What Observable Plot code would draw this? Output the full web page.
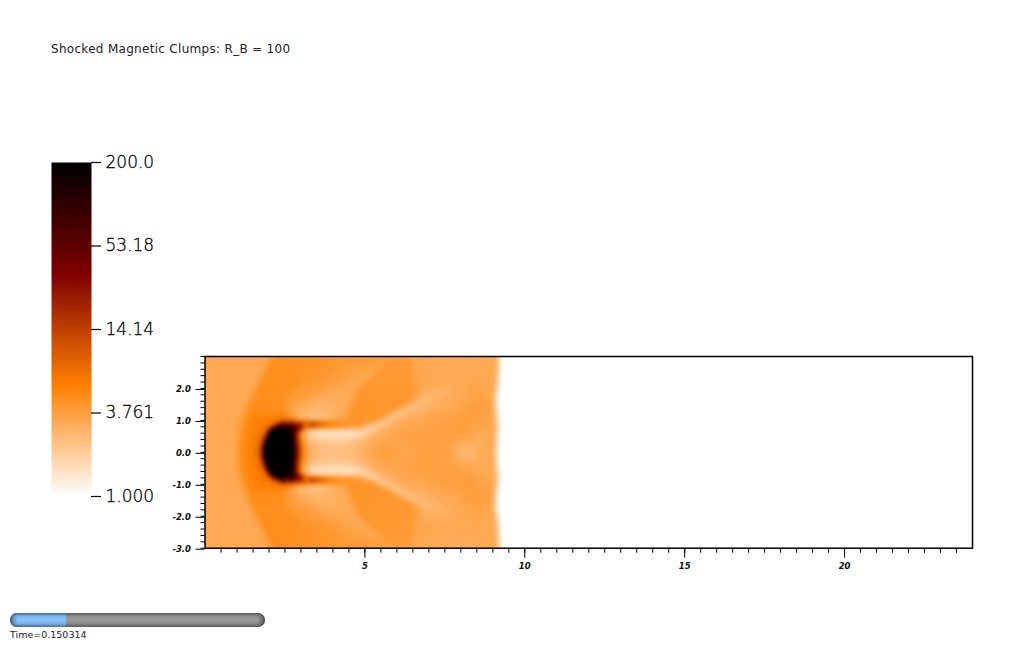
<!DOCTYPE html>
<html><head><meta charset="utf-8">
<script src="https://cdn.jsdelivr.net/npm/d3@7"></script>
<script src="https://cdn.jsdelivr.net/npm/@observablehq/plot@0.6"></script>
<style>
html,body{margin:0;padding:0;background:#fff;overflow:hidden}
#page{position:relative;width:1024px;height:645px}
#page svg{position:absolute;left:0;top:0;background:transparent;overflow:visible}
.lbl{position:absolute;font-family:"DejaVu Sans";color:#222;white-space:pre}
</style></head><body><div id="page"></div>
<script>
const titleText = "Shocked Magnetic Clumps: R_B = 100";
const timeText = "Time=0.150314";
const timeFraction = 0.22;
const legendTicks = [200.0, 53.18, 14.14, 3.761, 1.0];
const legendLabels = ["200.0", "53.18", "14.14", "3.761", "1.000"];
const colorStops = ["#ffffff", "#ff8000", "#800000", "#000000"];
const xMajor = [5, 10, 15, 20];
const xMinor = d3.range(0.5, 24, 0.5);
const yMajor = [-3, -2, -1, 0, 1, 2];
const yMinor = d3.range(-30, 31, 2).map(d => d / 10);

// density: [x, density] knots along lines of constant |y|
const rowA00 = [[0,3.3],[0.9,3.3],[1.18,5],[1.5,6.3],[1.7,8],[1.78,30],[1.86,210],[2.72,230],[2.84,60],[2.95,13],[3.08,5],[3.3,2.9],[3.6,2.5],[3.9,2.4],[4.2,2.4],[4.5,2.5],[4.8,2.8],[5.2,3.4],[5.6,3.8],[6.2,3.4],[7,3.8],[7.7,3.7],[8.0,2.5],[8.3,2.7],[8.6,3.2],[9.0,3.3],[9.1,1.9],[9.2,1],[24,1]];
const rowA15 = [[0,3.3],[0.9,3.3],[1.18,5],[1.5,6.2],[1.71,8],[1.79,30],[1.87,210],[2.73,230],[2.85,60],[2.96,13],[3.08,5],[3.3,2.8],[3.6,2.45],[3.9,2.35],[4.2,2.35],[4.5,2.45],[4.8,2.7],[5.2,3.3],[5.6,3.7],[6.2,3.5],[7,3.7],[7.7,3.6],[8.05,2.9],[8.35,2.8],[8.6,3.2],[9.0,3.3],[9.1,1.9],[9.2,1],[24,1]];
const rowA30 = [[0,3.3],[0.91,3.3],[1.19,5],[1.52,6.1],[1.74,8],[1.82,30],[1.9,210],[2.7,230],[2.83,60],[2.93,13],[3.06,4.6],[3.3,2.6],[3.6,2.3],[3.9,2.2],[4.2,2.2],[4.5,2.3],[4.8,2.6],[5.2,3.2],[5.6,3.5],[6.2,3.6],[7,3.7],[7.7,3.6],[8.2,3.2],[8.5,3],[8.8,3.2],[9.01,3.3],[9.11,1.9],[9.21,1],[24,1]];
const rowA45 = [[0,3.3],[0.93,3.3],[1.21,5],[1.56,6],[1.8,8],[1.88,30],[1.96,210],[2.68,230],[2.82,60],[2.92,12],[3.05,4],[3.3,2.1],[3.6,1.85],[3.9,1.8],[4.2,1.8],[4.5,1.85],[4.8,2.1],[5.2,3],[5.6,3.4],[6.2,3.6],[7,3.7],[7.7,3.7],[8.3,3.4],[8.8,3.2],[9.02,3.3],[9.12,1.9],[9.22,1],[24,1]];
const rowA55 = [[0,3.3],[0.94,3.3],[1.22,5],[1.6,6],[1.84,8],[1.92,30],[2.0,210],[2.66,220],[2.8,70],[2.92,12],[3.04,3.6],[3.3,1.7],[3.6,1.5],[3.9,1.45],[4.2,1.45],[4.5,1.45],[4.8,1.55],[5.1,2.4],[5.6,3.1],[6.2,3.5],[7,3.7],[7.7,3.7],[8.3,3.5],[8.8,3.2],[9.03,3.3],[9.13,1.9],[9.23,1],[24,1]];
const rowA65 = [[0,3.3],[0.95,3.3],[1.23,5],[1.66,6],[1.9,8],[1.98,30],[2.06,200],[2.64,200],[2.8,80],[2.94,14],[3.06,4],[3.3,1.9],[3.6,1.6],[3.9,1.6],[4.2,1.6],[4.5,1.55],[4.9,1.55],[5.15,2.2],[5.5,2.9],[5.8,3.3],[6.5,3.6],[7.2,3.7],[7.9,3.7],[8.5,3.4],[9.04,3.3],[9.14,1.9],[9.24,1],[24,1]];
const rowA75 = [[0,3.3],[0.97,3.3],[1.25,5],[1.75,6.2],[1.98,9],[2.07,35],[2.15,190],[2.62,170],[2.85,70],[3.0,18],[3.15,7],[3.3,4],[3.6,3.3],[3.9,3.2],[4.2,3.2],[4.5,3],[4.8,2.8],[5.15,1.7],[5.35,2.3],[5.65,2.8],[5.95,3.2],[6.6,3.5],[7.2,3.7],[7.9,3.8],[8.5,3.5],[9.05,3.3],[9.15,1.9],[9.25,1],[24,1]];
const rowA85 = [[0,3.3],[0.99,3.3],[1.27,5],[1.85,6.2],[2.12,9],[2.25,35],[2.4,110],[2.7,110],[3.0,50],[3.3,24],[3.6,12],[3.9,7],[4.2,5],[4.5,4.4],[4.8,4.3],[5.0,3.6],[5.3,1.8],[5.5,2.4],[5.8,2.9],[6.1,3.3],[6.8,3.5],[7.4,3.7],[8.0,3.9],[8.6,3.5],[9.05,3.3],[9.15,1.9],[9.25,1],[24,1]];
const rowA95 = [[0,3.3],[1.02,3.3],[1.3,5],[1.95,6],[2.3,7.5],[2.6,12],[3.0,11],[3.3,8],[3.6,6],[3.9,5],[4.2,4.6],[4.5,4.6],[4.8,4.5],[5.18,4.2],[5.36,3],[5.48,1.9],[5.68,2.5],[5.98,2.9],[6.28,3.3],[6.9,3.5],[7.5,3.7],[8.1,3.9],[8.7,3.5],[9.04,3.3],[9.14,1.9],[9.24,1],[24,1]];
const rowB05 = [[0,3.3],[1.05,3.3],[1.33,5],[2,5.8],[2.45,6],[2.8,4.2],[3.0,2.9],[3.3,2.6],[3.6,2.5],[3.9,2.9],[4.2,3.6],[4.5,4.3],[4.8,4.4],[5.37,4.3],[5.55,3],[5.67,2],[5.87,2.5],[6.17,2.9],[6.47,3.2],[7,3.5],[7.6,3.7],[8.2,3.9],[8.75,3.6],[9.03,3.3],[9.13,1.9],[9.23,1],[24,1]];
const rowB15 = [[0,3.3],[1.08,3.3],[1.36,5],[2.05,5.3],[2.6,4.4],[2.8,3.3],[3.0,2.6],[3.3,2.4],[3.6,2.4],[3.9,2.7],[4.2,3.1],[4.4,3.3],[4.55,4.3],[5.55,4.3],[5.73,3.1],[5.85,2.1],[6.05,2.5],[6.35,2.9],[6.65,3.1],[7.1,3.4],[7.7,3.6],[8.3,3.9],[8.8,3.7],[9.02,3.3],[9.12,1.9],[9.22,1],[24,1]];
const rowB25 = [[0,3.3],[1.12,3.3],[1.4,5],[2.1,5],[2.7,3.8],[3.2,2.7],[3.7,2.6],[4.0,2.9],[4.3,3.2],[4.42,3.3],[4.58,4.3],[5.73,4.3],[5.91,3.1],[6.03,2.1],[6.23,2.5],[6.53,2.8],[6.83,3],[7.2,3.3],[7.8,3.5],[8.35,3.9],[8.85,3.7],[9.01,3.3],[9.11,1.9],[9.21,1],[24,1]];
const rowB35 = [[0,3.3],[1.16,3.3],[1.44,5],[2.2,4.8],[2.8,3.5],[3.3,2.8],[3.8,2.8],[4.1,3],[4.35,3.2],[4.45,3.3],[4.6,4.3],[5.91,4.3],[6.09,3.1],[6.21,2.2],[6.41,2.5],[6.71,2.8],[7.01,3],[7.4,3.2],[7.9,3.5],[8.4,3.9],[8.88,3.7],[9.0,3.3],[9.1,1.9],[9.2,1],[24,1]];
const rowB45 = [[0,3.3],[1.21,3.3],[1.49,4.9],[2.3,4.7],[2.9,3.4],[3.4,2.9],[3.9,2.9],[4.2,3.1],[4.38,3.2],[4.48,3.3],[4.62,4.3],[6.1,4.2],[6.28,3.2],[6.4,2.3],[6.6,2.5],[6.9,2.8],[7.2,3],[7.6,3.2],[8.0,3.5],[8.45,3.9],[8.9,3.6],[9.0,3.3],[9.09,1.9],[9.19,1],[24,1]];
const rowB55 = [[0,3.3],[1.25,3.3],[1.53,4.9],[2.4,4.7],[3,3.5],[3.5,3],[4,3],[4.3,3.1],[4.42,3.2],[4.52,3.3],[4.66,4.3],[6.28,4.2],[6.46,3.3],[6.58,2.4],[6.78,2.6],[7.08,2.9],[7.38,3.1],[7.7,3.2],[8.1,3.5],[8.5,3.8],[8.92,3.6],[9.0,3.3],[9.08,1.9],[9.18,1],[24,1]];
const rowB65 = [[0,3.3],[1.29,3.3],[1.57,4.9],[2.45,4.7],[3.1,3.6],[3.6,3.1],[4.1,3.1],[4.35,3.2],[4.48,3.2],[4.58,3.3],[4.72,4.3],[6.4,4.2],[6.62,3.4],[6.76,2.5],[6.96,2.7],[7.26,3],[7.56,3.2],[7.85,3.3],[8.2,3.5],[8.55,3.7],[8.92,3.5],[9.0,3.3],[9.08,1.9],[9.18,1],[24,1]];
const rowB80 = [[0,3.3],[1.37,3.3],[1.65,4.9],[2.5,4.7],[3.2,3.8],[3.8,3.2],[4.2,3.2],[4.45,3.2],[4.55,3.2],[4.65,3.3],[4.8,4.3],[6.4,4.2],[6.6,3.7],[6.85,2.9],[7.03,2.7],[7.23,2.8],[7.53,3],[7.83,3.2],[8.3,3.5],[8.9,3.4],[9.0,3.3],[9.08,1.9],[9.18,1],[24,1]];
const rowB95 = [[0,3.3],[1.43,3.3],[1.71,4.9],[2.6,4.7],[3.3,4],[3.9,3.4],[4.3,3.2],[4.57,3.2],[4.67,3.3],[4.82,4.3],[6.42,4.2],[6.6,3.6],[7.1,3],[7.3,2.9],[7.5,3],[7.8,3.2],[8.1,3.3],[8.5,3.5],[8.95,3.3],[9.04,3.3],[9.12,1.9],[9.22,1],[24,1]];
const rowC10 = [[0,3.3],[1.51,3.3],[1.79,4.9],[2.7,4.7],[3.5,4.1],[4.2,3.5],[4.7,3.2],[4.85,3.3],[5,4.2],[6.48,4.2],[6.66,3.5],[7.3,3.2],[7.55,3.1],[7.8,3.25],[8.4,3.45],[8.95,3.3],[9.06,3.3],[9.14,1.9],[9.24,1],[24,1]];
const rowC30 = [[0,3.3],[1.6,3.3],[1.88,4.9],[2.85,4.7],[3.7,4.2],[4.4,3.6],[4.9,3.3],[5.05,3.3],[5.2,4.1],[6.45,4.1],[6.62,3.5],[7.4,3.3],[8.4,3.35],[9.07,3.3],[9.16,1.9],[9.26,1],[24,1]];
const rowC50 = [[0,3.3],[1.7,3.3],[1.98,4.9],[3,4.6],[3.9,4.2],[4.7,3.6],[5.2,3.4],[5.3,3.4],[5.45,4.1],[6.42,4.1],[6.58,3.5],[7.4,3.3],[8.4,3.3],[9.08,3.3],[9.17,1.9],[9.27,1],[24,1]];
const rowC75 = [[0,3.3],[1.82,3.3],[2.1,4.9],[3,4.6],[4,4.3],[5,3.9],[5.6,3.7],[5.78,4],[6.4,4],[6.55,3.4],[7.4,3.2],[8.4,3.2],[9.09,3.3],[9.18,1.9],[9.28,1],[24,1]];
const rowD00 = [[0,3.3],[1.95,3.3],[2.23,4.9],[3,4.6],[4,4.3],[5,4.0],[6.0,3.8],[6.35,3.9],[6.5,3.4],[7.4,3.2],[8.4,3.2],[9.1,3.3],[9.19,1.9],[9.29,1],[24,1]];

const rowTable = [[0,rowA00],[0.15,rowA15],[0.3,rowA30],[0.45,rowA45],[0.55,rowA55],[0.65,rowA65],[0.75,rowA75],[0.85,rowA85],[0.95,rowA95],[1.05,rowB05],[1.15,rowB15],[1.25,rowB25],[1.35,rowB35],[1.45,rowB45],[1.55,rowB55],[1.65,rowB65],[1.8,rowB80],[1.95,rowB95],[2.1,rowC10],[2.3,rowC30],[2.5,rowC50],[2.75,rowC75],[3.0,rowD00]];
const field = rowTable.flatMap(([y, knots]) => knots.flatMap(([x, v]) =>
  y === 0 ? [{x, y, v}] : [{x, y, v}, {x, y: -y, v}]));

const colorScale = {
  type: "linear",
  domain: [0, Math.log10(200)],
  interpolate: () => d3.piecewise(d3.interpolateRgb, colorStops),
  clamp: true
};
const page = document.getElementById("page");
const axisFont = {fontFamily: "DejaVu Sans", fontSize: 8.5, fontWeight: "bold", fontStyle: "italic", fill: "#111"};

page.append(Plot.plot({
  width: 1024, height: 645,
  marginLeft: 204.5, marginRight: 52, marginTop: 356, marginBottom: 97.3,
  style: {background: "transparent", overflow: "visible"},
  x: {domain: [0, 24]},
  y: {domain: [-3, 3]},
  color: colorScale,
  marks: [
    Plot.raster(field, {x: "x", y: "y", fill: d => Math.log10(d.v), x1: 0, x2: 24, y1: -3, y2: 3,
      interpolate: "barycentric", blur: 1.6, pixelSize: 1}),
    Plot.frame({stroke: "#000", strokeWidth: 1.5}),
    Plot.axisX({ticks: xMinor, tickSize: 5, tickFormat: () => "", stroke: "#000", label: null}),
    Plot.axisX({ticks: xMajor, tickSize: 10, tickPadding: 4.5, tickFormat: d => String(d), stroke: "#000", label: null, letterSpacing: "1px", ...axisFont}),
    Plot.axisY({ticks: yMinor, tickSize: 4, tickFormat: () => "", stroke: "#000", label: null}),
    Plot.axisY({ticks: yMajor, tickSize: 9, tickPadding: 5, tickFormat: d => d3.format(".1f")(d).replace("−", "-"),
      stroke: "#000", label: null, dy: 1, letterSpacing: "2.6px", ...axisFont})
  ]
}));

page.append(Plot.plot({
  width: 1024, height: 645,
  marginLeft: 51, marginRight: 933, marginTop: 162, marginBottom: 149,
  style: {background: "transparent", overflow: "visible"},
  x: {domain: [0, 1], axis: null},
  y: {type: "log", domain: [1, 200], axis: null},
  color: colorScale,
  marks: [
    Plot.raster({x1: 0, x2: 1, y1: 1, y2: 200, fill: (x, y) => Math.log10(y), pixelSize: 1}),
    Plot.ruleY(legendTicks, {y: d => d, x1: 1, x2: 1.25, stroke: "#000", strokeWidth: 1.2}),
    Plot.text(legendTicks, {y: d => d, x: 1.35, text: (d, i) => legendLabels[i], textAnchor: "start",
      fontSize: 17, fontFamily: "DejaVu Sans", fontWeight: 200, fill: "#000", stroke: "#000", strokeWidth: 0.3})
  ]
}));

const gradient = (id, stops, horiz) => () => {
  const s = d3.create("svg:defs");
  const g = s.append("linearGradient").attr("id", id).attr("x1", 0).attr("y1", 0).attr("x2", horiz ? 1 : 0).attr("y2", horiz ? 0 : 1);
  stops.forEach(([o, c, a]) => g.append("stop").attr("offset", o).attr("stop-color", c).attr("stop-opacity", a ?? 1));
  return s.node();
};
page.append(Plot.plot({
  width: 1024, height: 645,
  marginLeft: 10, marginRight: 759, marginTop: 613, marginBottom: 18,
  style: {background: "transparent", overflow: "visible"},
  x: {domain: [0, 1], axis: null},
  y: {axis: null, padding: 0},
  marks: [
    gradient("gGrey", [[0,"#5a5a5a"],[0.25,"#8f8f8f"],[0.5,"#9c9c9c"],[0.75,"#8a8a8a"],[1,"#585858"]]),
    gradient("gBlue", [[0,"#4c6c90"],[0.25,"#7fb4ec"],[0.5,"#8cc4ff"],[0.75,"#7cb0e8"],[1,"#4a6a8c"]]),
    gradient("gEnds", [[0,"#000",0.6],[0.012,"#000",0.25],[0.03,"#000",0],[0.97,"#000",0],[0.988,"#000",0.25],[1,"#000",0.6]], true),
    Plot.barX([1], {x1: 0, x2: 1, fill: "url(#gGrey)", rx: 7}),
    Plot.barX([1], {x1: 0, x2: timeFraction + 0.04, fill: "url(#gBlue)", rx: 7}),
    Plot.barX([1], {x1: timeFraction, x2: timeFraction + 0.06, fill: "url(#gGrey)"}),
    Plot.barX([1], {x1: 0, x2: 1, fill: "url(#gEnds)", rx: 7})
  ]
}));

const addLabel = (text, left, top, size, spacing) => {
  const d = document.createElement("div");
  d.className = "lbl";
  d.textContent = text;
  d.style.cssText = `left:${left}px;top:${top}px;font-size:${size}px;letter-spacing:${spacing}px`;
  page.append(d);
};
addLabel(titleText, 51, 41.5, 12, 0.3);
addLabel(timeText, 10, 629, 9.5, 0);
</script></body></html>
